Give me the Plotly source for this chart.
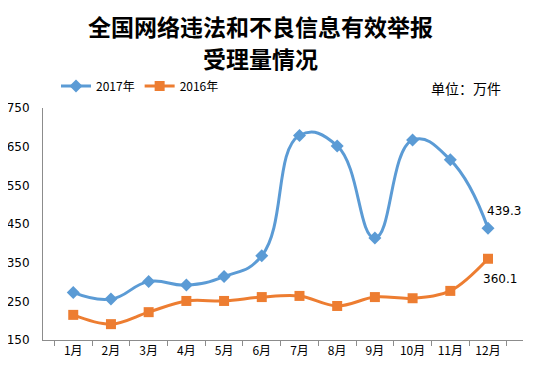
import plotly.graph_objects as go

months = ["1月", "2月", "3月", "4月", "5月", "6月", "7月", "8月", "9月", "10月", "11月", "12月"]
y2017 = [273, 256, 301, 292, 314, 368, 679, 652, 414, 667, 616, 439.3]
y2016 = [215, 191, 222, 251, 251, 261, 264, 238, 261, 258, 277, 360.1]
ytick_vals = [150, 250, 350, 450, 550, 650, 750]

BLUE = "#5B9BD5"
ORANGE = "#ED7D31"
FONT = "Noto Sans CJK SC"

fig = go.Figure()
fig.add_trace(go.Scatter(
    x=months, y=y2017, name="2017年", mode="lines+markers",
    line=dict(color=BLUE, width=3, shape="spline", smoothing=1.3),
    marker=dict(symbol="diamond", size=10, color=BLUE),
))
fig.add_trace(go.Scatter(
    x=months, y=y2016, name="2016年", mode="lines+markers",
    line=dict(color=ORANGE, width=3, shape="spline", smoothing=1.0),
    marker=dict(symbol="square", size=10, color=ORANGE),
))

# page pixel coordinates (page body has an 8px default margin)
H0, H1 = 340, 108  # page pixel y of 150 and 750
X0, XW = 43, 480
def py(p):
    return (H0 - p) / (H0 - H1)
def px(p):
    return (p - X0) / XW

fig.update_layout(
    width=536, height=370,
    margin=dict(l=35, r=21, t=100, b=38, autoexpand=False),
    paper_bgcolor="white", plot_bgcolor="white",
    font=dict(family=FONT, size=11, color="#000"),
    showlegend=True,
    legend=dict(orientation="h", x=px(56), y=py(86), xanchor="left", yanchor="middle",
                font=dict(size=12, family=FONT), bgcolor="rgba(0,0,0,0)",
                itemwidth=30, tracegroupgap=0),
    xaxis=dict(type="category", showgrid=False, showline=True, linecolor="#8c8c8c",
               linewidth=1, ticks="outside", tickson="boundaries", ticklen=5,
               tickcolor="#8c8c8c", tickfont=dict(size=12, family=FONT), zeroline=False,
               automargin=False),
    yaxis=dict(range=[150, 750], tickvals=ytick_vals, showgrid=False, showline=True,
               linecolor="#8c8c8c", linewidth=1, ticks="", zeroline=False,
               ticklabelstandoff=10, automargin=False,
               tickfont=dict(size=12, family="DejaVu Sans")),
    annotations=[
        dict(text="<b>全国网络违法和不良信息有效举报</b>", xref="paper", yref="paper",
             x=px(260), y=py(26), showarrow=False, xanchor="center", yanchor="middle",
             font=dict(size=23, family=FONT, color="#000")),
        dict(text="<b>受理量情况</b>", xref="paper", yref="paper",
             x=px(260), y=py(58), showarrow=False, xanchor="center", yanchor="middle",
             font=dict(size=23, family=FONT, color="#000")),
        dict(text="单位：万件", xref="paper", yref="paper",
             x=px(466), y=py(88), showarrow=False, xanchor="center", yanchor="middle",
             font=dict(size=14, family=FONT, color="#000")),
        dict(text=str(y2017[-1]), x=months[-1], y=y2017[-1], xref="x", yref="y",
             showarrow=False, xshift=16, yshift=17, font=dict(size=12, family="DejaVu Sans")),
        dict(text=str(y2016[-1]), x=months[-1], y=y2016[-1], xref="x", yref="y",
             showarrow=False, xshift=12, yshift=-20, font=dict(size=12, family="DejaVu Sans")),
    ],
)

fig.write_html("out.html")
